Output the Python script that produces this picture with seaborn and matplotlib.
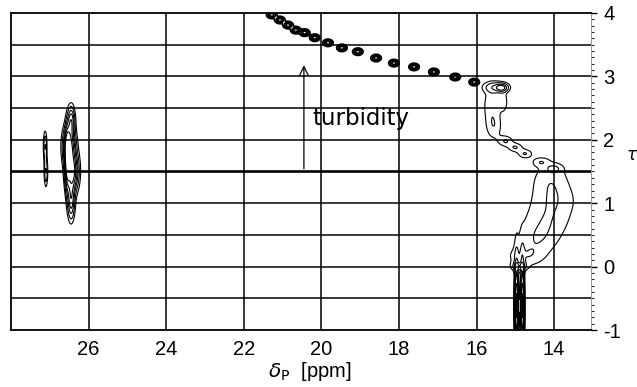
import numpy as np
import matplotlib
matplotlib.use("Agg")
import matplotlib.pyplot as plt
from matplotlib.ticker import MultipleLocator
import seaborn as sns

# Chain of sharp cross peaks (delta_P in ppm, tau)
chain_ppm = [21.28, 21.07, 20.86, 20.66, 20.43, 20.17, 19.83, 19.47,
             19.06, 18.59, 18.13, 17.61, 17.10, 16.55, 16.06]
chain_tau = [3.97, 3.89, 3.81, 3.73, 3.69, 3.61, 3.53, 3.45,
             3.39, 3.29, 3.21, 3.15, 3.07, 2.99, 2.91]

# Broad signal region: centre, widths and relative intensity of each component
broad_ppm = [15.50, 15.35, 15.62, 15.30, 15.55, 15.25, 15.00, 14.75,
             14.35, 14.00,
             14.10, 14.00, 14.20, 14.45, 14.75]
broad_tau = [2.83, 2.82, 2.55, 2.60, 2.20, 1.98, 1.88, 1.78,
             1.65, 1.55,
             1.40, 1.05, 0.70, 0.40, 0.15]
broad_sx = [0.22, 0.10, 0.15, 0.08, 0.15, 0.13, 0.13, 0.13,
            0.15, 0.15,
            0.35, 0.45, 0.45, 0.40, 0.35]
broad_sy = [0.06, 0.04, 0.20, 0.12, 0.15, 0.06, 0.05, 0.05,
            0.05, 0.05,
            0.20, 0.20, 0.20, 0.18, 0.12]
broad_amp = [0.30, 0.40, 0.18, 0.15, 0.16, 0.20, 0.20, 0.20,
             0.15, 0.13,
             0.15, 0.15, 0.15, 0.15, 0.15]

# Sharp lines near 15 ppm at small tau
line_ppm = [14.97, 14.82, 14.90]
line_tau = [-0.62, -0.62, 0.00]
line_sx = [0.035, 0.035, 0.12]
line_sy = [0.42, 0.42, 0.05]
line_amp = [1.00, 1.00, 0.35]

# Signals near 26-27 ppm
left_ppm = [27.12, 27.10, 26.45, 26.50, 26.42, 26.45, 26.55]
left_tau = [1.90, 1.50, 2.30, 1.90, 1.50, 1.05, 1.70]
left_sx = [0.03, 0.03, 0.06, 0.10, 0.10, 0.06, 0.04]
left_sy = [0.15, 0.15, 0.15, 0.20, 0.20, 0.20, 0.30]
left_amp = [0.35, 0.35, 0.60, 1.00, 1.00, 0.60, 0.80]

chain_levels = [0.12, 0.35, 0.7]
contour_levels = [0.1, 0.2, 0.35, 0.5, 0.7, 0.9]

x_ticks = [26, 24, 22, 20, 18, 16, 14]
y_ticks = [-1, 0, 1, 2, 3, 4]

sns.set_theme(style="white")
plt.rcParams["font.family"] = ["Liberation Sans", "DejaVu Sans"]

fig = plt.figure(figsize=(6.37, 3.87), dpi=100)
ax = fig.add_axes([11 / 637, 57 / 387, 580 / 637, 317 / 387])

gx = np.linspace(28.0, 13.0, 1500)
gy = np.linspace(-1.0, 4.0, 700)
X, Y = np.meshgrid(gx, gy)


def peak_field(xs, ys, sxs, sys_, amps):
    field = np.zeros_like(X)
    for x0, y0, sx, sy, a in zip(xs, ys, sxs, sys_, amps):
        field += a * np.exp(-0.5 * ((X - x0) / sx) ** 2 - 0.5 * ((Y - y0) / sy) ** 2)
    return field


Z_chain = peak_field(chain_ppm, chain_tau, [0.065] * len(chain_ppm),
                     [0.028] * len(chain_ppm), [1.0] * len(chain_ppm))
Z_main = (peak_field(broad_ppm, broad_tau, broad_sx, broad_sy, broad_amp)
          + peak_field(line_ppm, line_tau, line_sx, line_sy, line_amp)
          + peak_field(left_ppm, left_tau, left_sx, left_sy, left_amp))

# grid
for xv in x_ticks:
    ax.axvline(xv, color="black", lw=1.1, zorder=1)
for yv in np.arange(-0.5, 4.0, 0.5):
    ax.axhline(yv, color="black", lw=1.9 if yv == 1.5 else 1.1, zorder=1)

ax.contour(X, Y, Z_chain, levels=chain_levels, colors="black",
           linewidths=1.3, zorder=3)
ax.contour(X, Y, Z_main, levels=contour_levels, colors="black",
           linewidths=0.8, zorder=3)

ax.annotate("", xy=(20.45, 3.22), xytext=(20.45, 1.5),
            arrowprops=dict(arrowstyle="->,head_length=0.5,head_width=0.25",
                            color="black", lw=0.9), zorder=4)
ax.text(20.22, 2.33, "turbidity", fontsize=16.5, family="DejaVu Sans",
        ha="left", va="center", color="black", zorder=4)

ax.set_xlim(28.0, 13.05)
ax.set_ylim(-1.0, 4.0)
ax.set_xticks(x_ticks)
ax.set_xticklabels([str(v) for v in x_ticks])
ax.xaxis.set_minor_locator(MultipleLocator(1))
ax.yaxis.tick_right()
ax.set_yticks(y_ticks)
ax.set_yticklabels([str(v) for v in y_ticks])
ax.yaxis.set_minor_locator(MultipleLocator(0.1))
ax.tick_params(axis="x", which="major", direction="out", length=3,
               width=1, pad=4, labelsize=14.5, colors="black")
ax.tick_params(axis="x", which="minor", direction="out", length=2, width=1)
ax.tick_params(axis="y", which="major", direction="out", length=4,
               width=1, pad=5, labelsize=14.5, colors="black")
ax.tick_params(axis="y", which="minor", direction="out", length=2.5, width=0.8)

for side in ("left", "top", "bottom"):
    ax.spines[side].set_color("black")
    ax.spines[side].set_linewidth(1.3)
ax.spines["right"].set_color("#888888")
ax.spines["right"].set_linewidth(0.6)

# axis titles
fig.text(310 / 637, 4 / 387, r"$\delta_{\mathrm{P}}$  [ppm]", fontsize=14.5,
         ha="center", va="bottom", color="black")
fig.text(632 / 637, 1 - 155 / 387, r"$\tau$", fontsize=12, ha="center",
         va="center", fontweight="bold", color="black")

fig.savefig("out.png", dpi=100)
